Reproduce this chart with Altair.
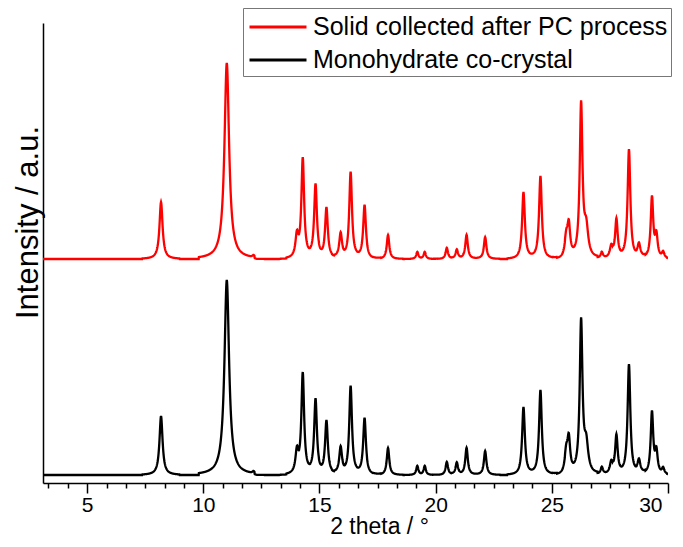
import altair as alt
import numpy as np
import pandas as pd

# ---- data ----
series_names = ["Solid collected after PC process", "Monohydrate co-crystal"]
series_colors = ["#ff0000", "#000000"]
series_offsets = [216, 0]

peak_pos = [8.18, 11.01, 12.16, 14.03, 14.28, 14.83, 15.30, 15.91, 16.34, 16.94,
            17.95, 19.21, 19.53, 20.48, 20.91, 21.33, 22.13, 23.78, 24.51, 25.62,
            25.73, 26.26, 26.48, 27.15, 27.56, 27.78, 28.32, 28.75, 29.31, 29.50, 29.79]
peak_fwhm = [0.16, 0.24, 0.10, 0.15, 0.14, 0.14, 0.14, 0.14, 0.14, 0.14,
             0.13, 0.11, 0.11, 0.12, 0.12, 0.13, 0.13, 0.14, 0.14, 0.16,
             0.14, 0.14, 0.20, 0.12, 0.15, 0.13, 0.14, 0.14, 0.13, 0.13, 0.12]
black_heights = [59, 195, 2, 22, 100, 74, 53, 26, 88, 56,
                 27, 9, 9, 13, 12, 27, 24, 68, 85, 20,
                 32, 152, 28, 7, 12, 38, 110, 13, 62, 22, 6]
red_heights = [57, 196, 2, 22, 99, 73, 50, 24, 86, 53,
               24, 7, 7, 11, 9, 24, 22, 67, 83, 19,
               30, 153, 28, 6, 12, 38, 109, 13, 61, 22, 6]

major_ticks = [5, 10, 15, 20, 25, 30]
minor_per_major = 6
x_domain = [3.1, 30]
y_domain = [-8, 452]

# ---- build traces from the peak list ----
grid = np.round(np.arange(3.1, 30.0001, 0.01), 3)


def trace(heights):
    y = np.zeros_like(grid)
    for p, w, h in zip(peak_pos, peak_fwhm, heights):
        d = grid - p
        m = np.abs(d) <= 5 * w
        y[m] += h / (1 + (d[m] / (w / 2)) ** 2)
    return y


frames = []
for name, heights, off in zip(series_names, [red_heights, black_heights], series_offsets):
    frames.append(pd.DataFrame({"theta": grid, "intensity": trace(heights) + off, "series": name}))
df = pd.concat(frames, ignore_index=True)

step = (major_ticks[1] - major_ticks[0]) / minor_per_major
tick_values = []
for k in range(-minor_per_major, (major_ticks[-1] - major_ticks[0]) * minor_per_major // 5 + 1):
    v = round(major_ticks[0] + k * step, 4)
    if x_domain[0] <= v <= x_domain[1] + 1e-6:
        tick_values.append(v)

FONT = "Liberation Sans"
is_major = "abs(datum.value/5 - round(datum.value/5)) < 0.001"

chart = alt.Chart(df).mark_line(strokeWidth=2.3, clip=True).encode(
    x=alt.X(
        "theta:Q",
        scale=alt.Scale(domain=x_domain, nice=False, zero=False),
        axis=alt.Axis(
            values=tick_values,
            tickSize={"condition": {"test": is_major, "value": 10}, "value": 5},
            labelExpr=f"{is_major} ? format(datum.value, 'd') : ''",
            labelOffset={"condition": {"test": "datum.value > 29.9", "value": -6}, "value": 0},
            labelOverlap=False,
            labelFont=FONT, labelFontSize=21, labelColor="black", labelPadding=1,
            title="2 theta / °", titleFont=FONT, titleFontSize=23, titleFontWeight="normal",
            titleColor="black", titleX=336, titleY=50, titleBaseline="alphabetic",
            titleAlign="center", titleAnchor="start",
            grid=False, domainColor="black", domainWidth=1.5,
            tickColor="black", tickWidth=1.5,
        ),
    ),
    y=alt.Y(
        "intensity:Q",
        scale=alt.Scale(domain=y_domain, nice=False, zero=False),
        axis=alt.Axis(
            ticks=False, labels=False, grid=False,
            title="Intensity / a.u.", titleFont=FONT, titleFontSize=31, titleFontWeight="normal",
            titleColor="black", titleX=-6, titleY=199, titleBaseline="alphabetic",
            titleAlign="center", titleAnchor="start", titleAngle=270,
            domainColor="black", domainWidth=1.5,
        ),
    ),
    color=alt.Color(
        "series:N",
        scale=alt.Scale(domain=series_names, range=series_colors),
        sort=series_names,
        legend=alt.Legend(
            title=None, orient="none", legendX=200, legendY=-15,
            symbolType="M-2,0H2", symbolSize=812, symbolStrokeWidth=3, symbolOffset=16,
            labelFont=FONT, labelFontSize=25, labelColor="black", labelLimit=0,
            labelOffset=19, strokeColor="#777777", fillColor="white", padding=3,
            rowPadding=4,
        ),
    ),
).properties(
    width=625, height=460,
    autosize=alt.AutoSizeParams(type="none"),
    padding={"left": 35, "top": 15, "right": 7, "bottom": 56},
).configure_view(stroke=None)

chart.save("out.html", embed_options={"renderer": "svg", "actions": False})
